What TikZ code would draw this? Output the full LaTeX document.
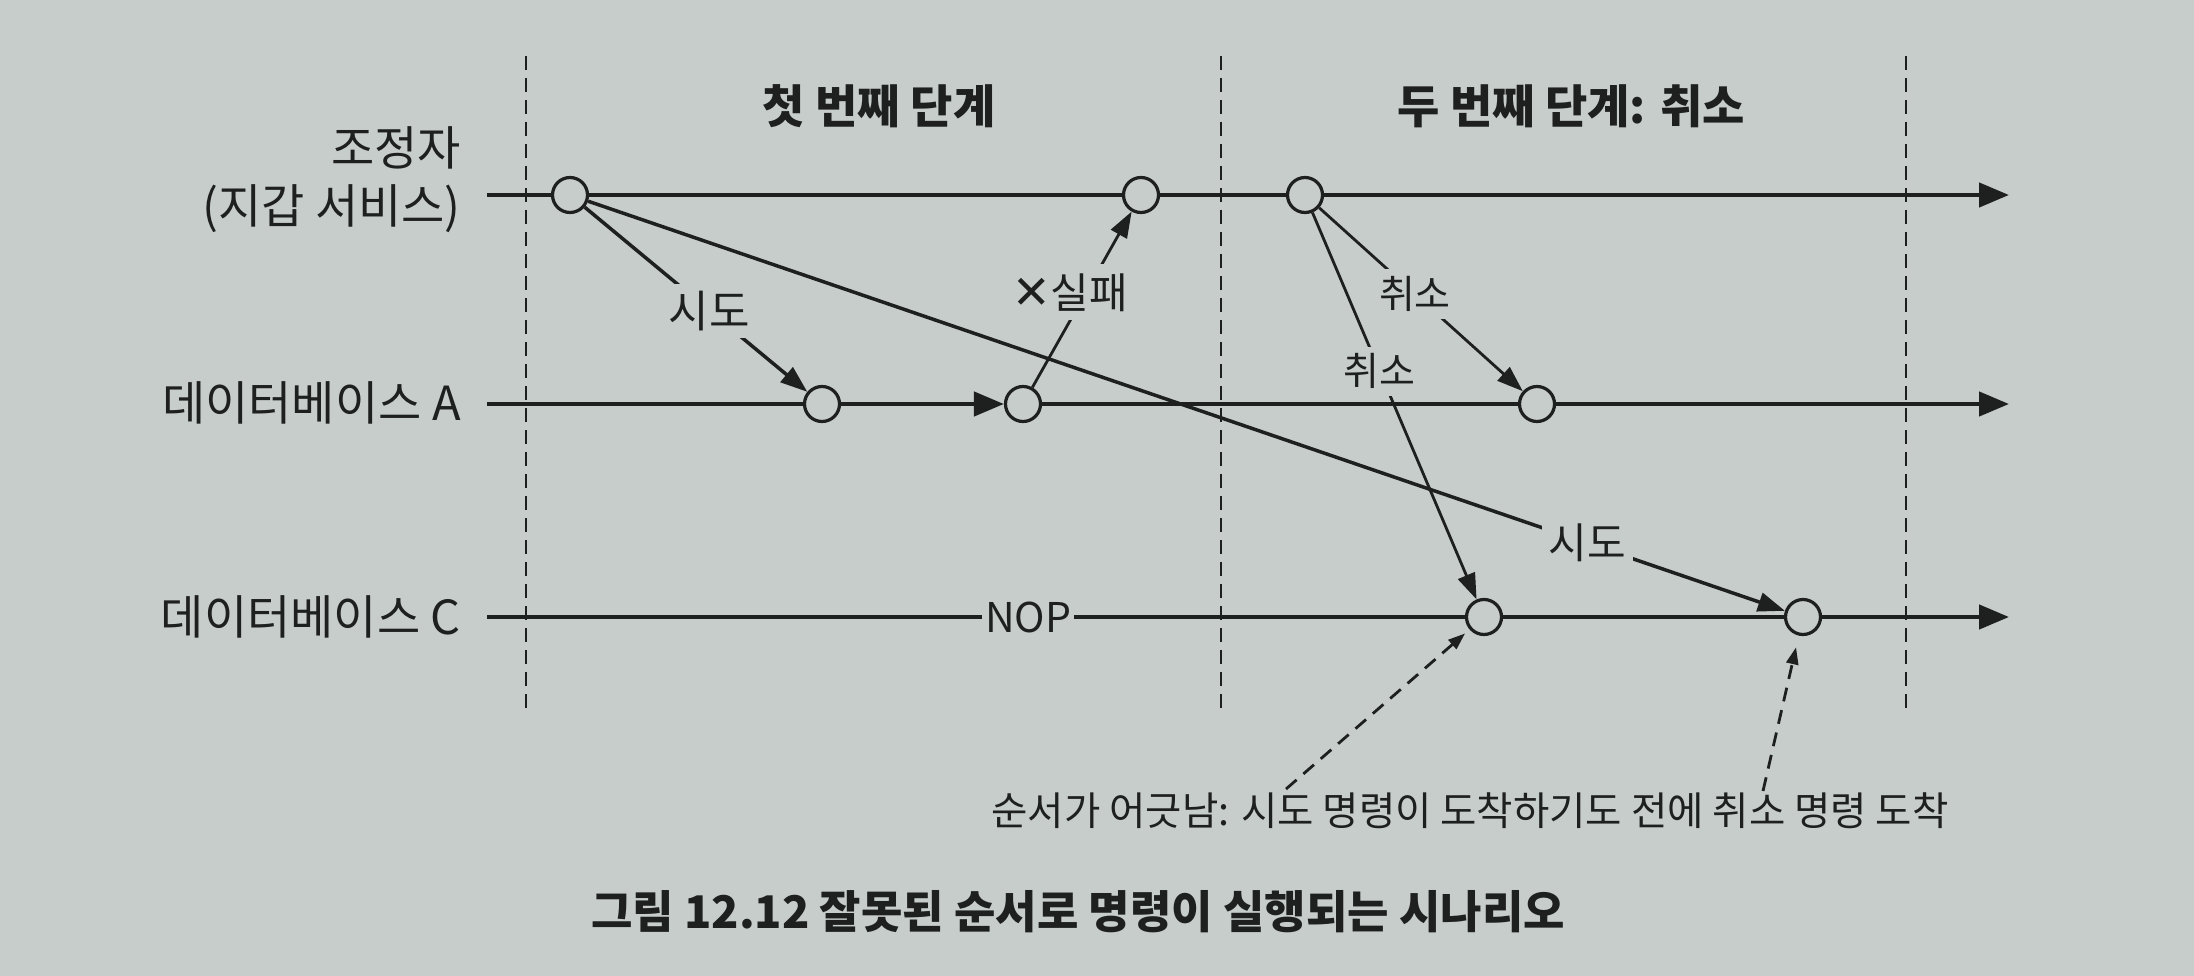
\documentclass[tikz,border=0pt]{standalone}
\usepackage{fontspec}
\setmainfont{Noto Sans CJK KR}
\newfontfamily\dejavu{DejaVu Sans}
\usetikzlibrary{arrows.meta,calc}
\definecolor{bg}{RGB}{199,205,202}
\definecolor{ink}{RGB}{30,32,32}
\tikzset{
  ev/.style={circle, draw=ink, line width=3.2pt, fill=bg, minimum size=35pt, inner sep=0pt},
  tl/.style={draw=ink, line width=4.5pt},
  tlarrow/.style={tl, -{Triangle[length=30pt,width=24pt]}},
  msg/.style={draw=ink, line width=3.5pt, -{Triangle[length=27pt,width=19pt]}},
  thinmsg/.style={draw=ink, line width=2.8pt, -{Triangle[length=26pt,width=18pt]}},
  lbl/.style={fill=bg, text=ink, font=\fontsize{44}{50}\selectfont, inner sep=7pt},
  smalllbl/.style={fill=bg, text=ink, font=\fontsize{39}{46}\selectfont, inner sep=7pt},
  rowlbl/.style={text=ink, font=\fontsize{47}{58}\selectfont, align=right, anchor=east, inner sep=0pt},
  phase/.style={text=ink, font=\fontsize{46}{54}\selectfont\bfseries},
  vdash/.style={draw=ink, line width=2.8pt, dash pattern=on 14pt off 8pt},
  note/.style={draw=ink, line width=2.8pt, dash pattern=on 14pt off 9pt, -{Triangle[length=17pt,width=12pt]}, shorten >=6pt},
}
\begin{document}
\begin{tikzpicture}[x=1pt,y=-1pt]
  \fill[bg] (0,0) rectangle (2194,976);
  \useasboundingbox (0,0) rectangle (2194,976);

  % phase separators
  \draw[vdash] (526,56) -- (526,708);
  \draw[vdash] (1221,56) -- (1221,708);
  \draw[vdash] (1906,56) -- (1906,708);

  % phase titles
  \node[phase] (p1) at (879,106) {첫 번째 단계};
  \node[phase] (p2) at (1571,106) {두 번째 단계: 취소};

  % row labels
  \node[rowlbl] (lc) at (461,180) {조정자\\(지갑 서비스)};
  \node[rowlbl] (la) at (461,403) {데이터베이스 A};
  \node[rowlbl] (lcc) at (461,617) {데이터베이스 C};

  % timeline ends
  \coordinate (cs) at (487,195);
  \coordinate (ce) at (2009,195);
  \coordinate (as) at (487,404);
  \coordinate (ae) at (2009,404);
  \coordinate (ccs) at (487,617);
  \coordinate (cce) at (2009,617);

  % events
  \node[ev] (c1) at (570,195) {};
  \node[ev] (c2) at (1141,195) {};
  \node[ev] (c3) at (1305,195) {};
  \node[ev] (a1) at (822,404) {};
  \node[ev] (a2) at (1023,404) {};
  \node[ev] (a3) at (1537,404) {};
  \node[ev] (cc1) at (1484,617) {};
  \node[ev] (cc2) at (1803,617) {};
  \node[smalllbl, font=\fontsize{41}{48}\selectfont, inner sep=3pt] (nop) at (1028,617) {NOP};

  % timelines
  \draw[tl] (cs) -- (c1);
  \draw[tl] (c1) -- (c2);
  \draw[tl] (c2) -- (c3);
  \draw[tlarrow] (c3) -- (ce);

  \draw[tl] (as) -- (a1);
  \draw[tlarrow] (a1) -- (a2);
  \draw[tl] (a2) -- (a3);
  \draw[tlarrow] (a3) -- (ae);

  \draw[tl] (ccs) -- (nop);
  \draw[tl] (nop) -- (cc1);
  \draw[tl] (cc1) -- (cc2);
  \draw[tlarrow] (cc2) -- (cce);

  % messages
  \draw[msg] (c1) -- node[lbl, pos=0.56] (t1) {시도} (a1);
  \draw[msg] (c1) -- node[lbl, pos=0.835, font=\fontsize{42}{48}\selectfont] (t2) {시도} (cc2);
  \draw[thinmsg] (a2) -- node[lbl, pos=0.54, xshift=-16pt, inner sep=9pt, font=\fontsize{42}{48}\selectfont] (f1) {{\dejavu\fontsize{46}{48}\selectfont ✕}실패} (c2);
  \draw[thinmsg] (c3) -- node[smalllbl, pos=0.47] (k1) {취소} (a3);
  \draw[thinmsg] (c3) -- node[smalllbl, pos=0.41] (k2) {취소} (cc1);

  % annotation
  \node[text=ink, font=\fontsize{39.5}{46}\selectfont] (ann) at (1470,811) {순서가 어긋남: 시도 명령이 도착하기도 전에 취소 명령 도착};
  \coordinate (n1) at (1286,789);
  \coordinate (n2) at (1763,791);
  \draw[note] (n1) -- (cc1);
  \draw[note, shorten >=12pt] (n2) -- (cc2);

  % caption
  \node[text=ink, font=\fontsize{45}{52}\selectfont\bfseries] (cap) at (1078,912) {그림 12.12 잘못된 순서로 명령이 실행되는 시나리오};
\end{tikzpicture}
\end{document}
